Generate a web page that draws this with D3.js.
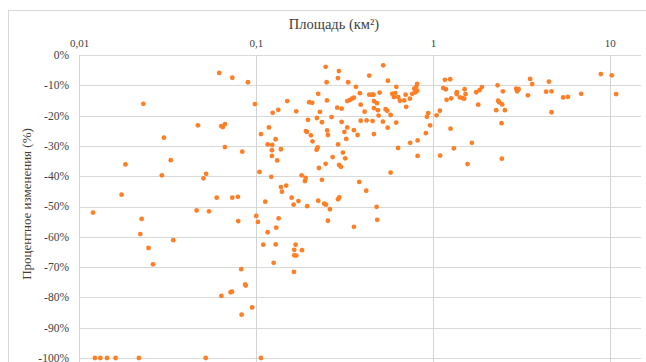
<!DOCTYPE html>
<html>
<head>
<meta charset="utf-8">
<script src="https://cdn.jsdelivr.net/npm/d3@7"></script>
<style>
  html, body { margin: 0; padding: 0; background: #fff; }
  svg { display: block; }
  svg text { font-family: "Liberation Serif", "DejaVu Serif", "Noto Serif", "Times New Roman", Times, serif; fill: #404040; }
</style>
</head>
<body>
<svg id="chart" width="646" height="362"></svg>
<script>
// Площадь (км²) и процентное изменение для каждого объекта
const areaKm2 = [
  0.0120, 0.0123, 0.0132, 0.0144, 0.0161, 0.0174, 0.0183, 0.0218, 0.0222, 0.0226,
  0.0231, 0.0247, 0.0262, 0.0294, 0.0302, 0.0330, 0.0341, 0.0462, 0.0470, 0.0505,
  0.0520, 0.0523, 0.0543, 0.0600, 0.0620, 0.0638, 0.0637, 0.0651, 0.0668, 0.0668,
  0.0719, 0.0732, 0.0735, 0.0735, 0.0791, 0.0794, 0.0826, 0.0830, 0.0837, 0.0870,
  0.0875, 0.0901, 0.0952, 0.0987, 0.1004, 0.1026, 0.1047, 0.1067, 0.1067, 0.1100,
  0.1129, 0.1165, 0.1165, 0.1184, 0.1220, 0.1231, 0.1231, 0.1236, 0.1243, 0.1259,
  0.1292, 0.1293, 0.1302, 0.1319, 0.1337, 0.1343, 0.1384, 0.1384, 0.1403, 0.1483,
  0.1503, 0.1591, 0.1633, 0.1639, 0.1646, 0.1646, 0.1676, 0.1689, 0.1689, 0.1738,
  0.1812, 0.1820, 0.1892, 0.1909, 0.1917, 0.1943, 0.1949, 0.1967, 0.2000, 0.2045,
  0.2080, 0.2087, 0.2202, 0.2231, 0.2211, 0.2249, 0.2249, 0.2270, 0.2299, 0.2360,
  0.2360, 0.2432, 0.2486, 0.2477, 0.2477, 0.2509, 0.2519, 0.2526, 0.2552, 0.2552,
  0.2619, 0.2678, 0.2713, 0.2880, 0.2906, 0.2912, 0.2944, 0.2950, 0.3022, 0.2912,
  0.2956, 0.3050, 0.3050, 0.3101, 0.3162, 0.3195, 0.3237, 0.3280, 0.3280, 0.3323,
  0.3384, 0.3487, 0.3579, 0.3579, 0.3579, 0.3673, 0.3755, 0.3834, 0.3869, 0.3909,
  0.3909, 0.4200, 0.4113, 0.4222, 0.4367, 0.4367, 0.4523, 0.4564, 0.4620, 0.4642,
  0.4642, 0.4642, 0.4808, 0.4827, 0.4846, 0.4890, 0.4934, 0.4999, 0.5218, 0.5239,
  0.5405, 0.5519, 0.5550, 0.5569, 0.5768, 0.5768, 0.5890, 0.6020, 0.6124, 0.6204,
  0.6213, 0.6368, 0.6354, 0.6510, 0.6885, 0.7013, 0.7067, 0.7415, 0.7445, 0.7641,
  0.7842, 0.7943, 0.8046, 0.8152, 0.8152, 0.8195, 0.8195, 0.9130, 0.9250, 0.9406,
  0.9640, 1.049, 1.095, 1.099, 1.143, 1.169, 1.184, 1.195, 1.252, 1.258,
  1.269, 1.314, 1.361, 1.366, 1.420, 1.472, 1.503, 1.510, 1.530, 1.570,
  1.661, 1.757, 1.803, 1.836, 1.892, 2.279, 2.321, 2.339, 2.369, 2.444,
  2.453, 2.464, 2.486, 2.552, 2.955, 3.050, 2.994, 3.441, 3.545, 3.639,
  4.366, 4.523, 4.684, 4.684, 5.447, 5.791, 6.886, 8.893, 10.26, 10.85
];
const changePct = [
  -52.0, -100, -100, -100, -100, -46.1, -36.1, -100, -59.1, -54.1,
  -16.1, -63.7, -69.1, -39.7, -27.3, -34.7, -61.1, -51.3, -23.2, -40.7,
  -100, -39.2, -51.6, -47.1, -5.9, -79.5, -23.5, -23.8, -22.8, -30.4,
  -78.3, -78.1, -7.5, -47.1, -46.8, -54.8, -70.7, -85.7, -31.9, -75.7,
  -76.1, -9.0, -83.3, -16.2, -53.1, -55.1, -38.6, -26.1, -100, -62.6,
  -48.4, -58.5, -29.5, -23.9, -40.2, -31.4, -33.3, -29.7, -19.1, -68.6,
  -27.8, -62.5, -57.0, -34.8, -18.1, -53.9, -43.6, -31.1, -45.1, -43.1,
  -15.2, -47.1, -49.4, -71.6, -64.3, -66.1, -62.6, -18.6, -66.2, -48.2,
  -39.7, -64.4, -41.6, -40.6, -25.1, -25.4, -49.9, -21.4, -15.6, -26.5,
  -15.8, -28.5, -31.3, -30.5, -20.8, -12.8, -48.1, -37.3, -18.8, -22.2,
  -41.2, -49.1, -49.4, -3.9, -35.9, -9.0, -15.0, -24.9, -26.4, -54.7,
  -50.9, -20.5, -33.7, -17.4, -7.6, -29.5, -5.3, -36.3, -36.9, -47.6,
  -47.0, -17.7, -22.1, -32.2, -25.4, -34.1, -27.7, -23.9, -15.2, -9.0,
  -14.9, -14.4, -14.1, -24.8, -56.7, -10.5, -26.4, -41.9, -12.6, -16.4,
  -21.7, -44.8, -18.7, -21.6, -6.8, -13.1, -13.1, -21.8, -13.1, -15.2,
  -17.5, -26.1, -50.1, -15.9, -54.4, -18.2, -20.0, -12.4, -22.0, -3.4,
  -17.9, -18.4, -24.0, -8.5, -19.8, -38.8, -12.8, -13.9, -12.6, -22.3,
  -10.5, -13.9, -30.7, -15.1, -15.0, -13.1, -17.1, -14.4, -29.0, -12.8,
  -11.1, -12.4, -10.5, -9.5, -11.8, -28.2, -33.3, -25.8, -20.4, -19.2,
  -23.2, -19.9, -18.4, -33.2, -10.9, -8.2, -11.3, -14.8, -8.0, -24.3,
  -14.3, -30.8, -12.9, -12.3, -14.0, -14.2, -14.4, -11.3, -12.9, -36.0,
  -29.0, -12.3, -16.4, -11.6, -10.6, -18.2, -10.0, -15.1, -15.6, -22.5,
  -34.2, -16.3, -12.0, -18.2, -11.1, -11.3, -12.0, -13.3, -7.9, -9.6,
  -12.1, -8.8, -12.0, -18.9, -14.0, -13.8, -12.8, -6.3, -6.7, -12.9
];

// Подписи осей
const xTickValues = [0.01, 0.1, 1, 10];
const xTickLabels = ["0,01", "0,1", "1", "10"];
const yTickValues = [0, -10, -20, -30, -40, -50, -60, -70, -80, -90, -100];
const yTickLabels = ["0%", "-10%", "-20%", "-30%", "-40%", "-50%", "-60%", "-70%", "-80%", "-90%", "-100%"];
const xTitle = "Площадь (км²)";
const yTitle = "Процентное изменения (%)";

const serif = "'Liberation Serif', 'DejaVu Serif', 'Noto Serif', 'Times New Roman', Times, serif";

const svg = d3.select("#chart");
const W = 646, H = 362;
const plot = { left: 79, right: 641, top: 55, bottom: 358 };

const x = d3.scaleLog().domain([0.01, 15]).range([plot.left, plot.right]);
const y = d3.scaleLinear().domain([-100, 0]).range([plot.bottom, plot.top]);

// Рамка области диаграммы
svg.append("rect")
  .attr("x", 8.5).attr("y", 10.5)
  .attr("width", W).attr("height", H)
  .attr("fill", "#fff").attr("stroke", "#d9d9d9").attr("stroke-width", 1);

// Горизонтальная сетка
svg.append("g")
  .selectAll("line")
  .data(yTickValues)
  .join("line")
  .attr("x1", plot.left).attr("x2", plot.right)
  .attr("y1", d => Math.round(y(d)) + 0.5)
  .attr("y2", d => Math.round(y(d)) + 0.5)
  .attr("stroke", "#d9d9d9").attr("stroke-width", 1);

// Вертикальная сетка (основные деления логарифмической оси)
svg.append("g")
  .selectAll("line")
  .data(xTickValues)
  .join("line")
  .attr("x1", d => Math.round(x(d)) + 0.5)
  .attr("x2", d => Math.round(x(d)) + 0.5)
  .attr("y1", plot.top).attr("y2", plot.bottom + 4)
  .attr("stroke", "#d4d4d4").attr("stroke-width", 1);

// Ось X сверху
const xAxis = d3.axisTop(x)
  .tickValues(xTickValues)
  .tickFormat((d, i) => xTickLabels[i])
  .tickSize(0).tickPadding(8);
const gx = svg.append("g").attr("transform", `translate(0,${plot.top})`).call(xAxis);
gx.attr("font-family", serif);
gx.select(".domain").remove();
gx.selectAll("text").attr("font-size", 11).attr("fill", "#404040");

// Ось Y слева
const yAxis = d3.axisLeft(y)
  .tickValues(yTickValues)
  .tickFormat((d, i) => yTickLabels[i])
  .tickSize(0).tickPadding(10);
const gy = svg.append("g").attr("transform", `translate(${plot.left},0)`).call(yAxis);
gy.attr("font-family", serif);
gy.select(".domain").remove();
gy.selectAll("text").attr("font-size", 11.5).attr("fill", "#404040")
  .attr("dy", "0.3em");

// Заголовки осей
svg.append("text")
  .attr("x", 334).attr("y", 29)
  .attr("text-anchor", "middle")
  .attr("font-family", serif)
  .attr("font-size", 14.5)
  .text(xTitle);

svg.append("text")
  .attr("transform", "translate(31,204) rotate(-90)")
  .attr("text-anchor", "middle")
  .attr("font-family", serif)
  .attr("font-size", 13)
  .text(yTitle);

// Точки
const points = areaKm2.map((a, i) => ({ a, p: changePct[i] }));
svg.append("g")
  .selectAll("circle")
  .data(points)
  .join("circle")
  .attr("cx", d => x(d.a))
  .attr("cy", d => y(d.p))
  .attr("r", 2.4)
  .attr("fill", "#ff7f27");
</script>
</body>
</html>
